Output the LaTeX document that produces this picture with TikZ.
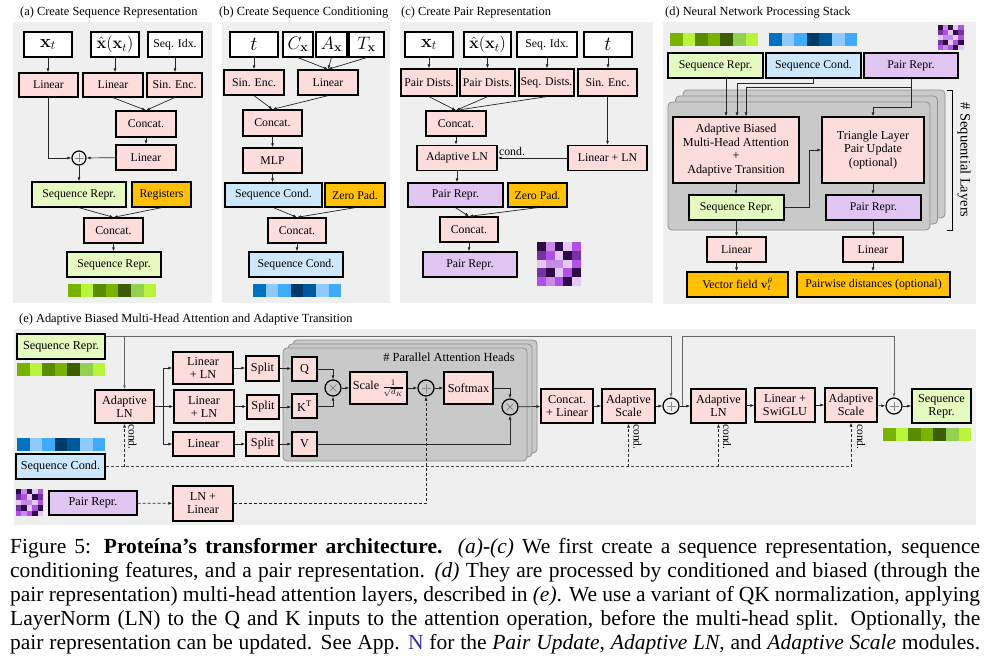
\RequirePackage{fix-cm}
\documentclass[tikz,border=0pt]{standalone}
\usepackage[no-math]{fontspec}
\setmainfont{Liberation Serif}
\usetikzlibrary{arrows.meta,calc}
\definecolor{pinkc}{HTML}{FDDCDC}
\definecolor{greenc}{HTML}{E4FAC0}
\definecolor{bluec}{HTML}{CDE8FC}
\definecolor{purc}{HTML}{E0C5F3}
\definecolor{orangec}{HTML}{FFC000}
\definecolor{panelc}{HTML}{EFEFEF}
\definecolor{stackc}{HTML}{C9C9C9}
\definecolor{stackd}{HTML}{8F8F8F}
\definecolor{linkc}{HTML}{3030B0}
\definecolor{g1}{HTML}{77B300}
\definecolor{g2}{HTML}{B8F53A}
\definecolor{g3}{HTML}{5B8C00}
\definecolor{g4}{HTML}{3E5C00}
\definecolor{g5}{HTML}{92D050}
\definecolor{b1}{HTML}{0070C0}
\definecolor{b2}{HTML}{8FCAFF}
\definecolor{b3}{HTML}{40AAFF}
\definecolor{b4}{HTML}{003A66}
\definecolor{b5}{HTML}{00599C}
\definecolor{p1}{HTML}{2E0A47}
\definecolor{p2}{HTML}{7433A0}
\definecolor{p3}{HTML}{B150E6}
\definecolor{p4}{HTML}{C78AE6}
\definecolor{p5}{HTML}{E3C8F5}
\newcommand\mystrip[4]{\foreach \cc [count=\i from 0] in {#4} {\fill[\cc] ({#1+\i*#3},#2) rectangle ++(#3,13);}}
\newcommand\gstrip[2]{\mystrip{#1}{#2}{12.6}{g1,g2,g3,g1,g4,g5,g2}}
\newcommand\bstrip[2]{\mystrip{#1}{#2}{12.6}{b1,b2,b3,b4,b5,b2,b3}}
\newcommand\pgrid[3]{\foreach \rw [count=\j from 0] in {{p1,p4,p1,p5,p3},{p2,p3,p5,p1,p2},{p5,p4,p4,p5,p3},{p2,p1,p5,p3,p1},{p3,p4,p3,p1,p5}} {\foreach \cc [count=\i from 0] in \rw {\fill[\cc] ({#1+\i*#3},{#2+\j*#3}) rectangle ++(#3,#3);}}}
\begin{document}
\begin{tikzpicture}[x=1pt,y=-1pt,
  bx/.style={draw=black, line width=1.3pt, inner sep=1pt, align=center, font=\fontsize{11.8}{12.8}\selectfont},
  wb/.style={bx, fill=white},
  pk/.style={bx, fill=pinkc},
  gn/.style={bx, fill=greenc},
  bu/.style={bx, fill=bluec},
  pu/.style={bx, fill=purc},
  og/.style={bx, fill=orangec},
  ebx/.style={font=\fontsize{12.2}{13}\selectfont},
  sz/.style 2 args={minimum width=#1pt, minimum height=#2pt},
  mth/.style={font=\fontsize{18}{18}\selectfont},
  mhat/.style={font=\fontsize{16.5}{16.5}\selectfont},
  ttl/.style={font=\fontsize{12.4}{13}\selectfont, anchor=west, inner sep=0},
  arr/.style={-{Latex[length=4pt,width=3pt]}, line width=0.7pt, draw=black!85},
  garr/.style={-{Latex[length=4pt,width=3pt]}, line width=1pt, draw=black!60},
  dsh/.style={line width=0.8pt, draw=black!70, dash pattern=on 3pt off 2pt},
  stk/.style={fill=stackc, draw=stackd, line width=0.8pt, rounded corners=4pt},
  oplus/.style={circle, draw=black, line width=1.2pt, inner sep=0pt, minimum size=#1, path picture={
    \draw[black!45, line width=0.6pt] ([xshift=-4.5pt]path picture bounding box.center) -- ([xshift=4.5pt]path picture bounding box.center);
    \draw[black!45, line width=0.6pt] ([yshift=-4.5pt]path picture bounding box.center) -- ([yshift=4.5pt]path picture bounding box.center);}},
  oplus/.default=16pt,
  otimes/.style={circle, draw=black, line width=1.2pt, inner sep=0pt, minimum size=16pt, path picture={
    \draw[black!55, line width=0.6pt] ([xshift=-3.3pt,yshift=-3.3pt]path picture bounding box.center) -- ([xshift=3.3pt,yshift=3.3pt]path picture bounding box.center);
    \draw[black!55, line width=0.6pt] ([xshift=-3.3pt,yshift=3.3pt]path picture bounding box.center) -- ([xshift=3.3pt,yshift=-3.3pt]path picture bounding box.center);}},
  cnd/.style={font=\fontsize{11.5}{11.5}\selectfont, rotate=-90, inner sep=0},
  captxt/.style={font=\fontsize{21.5}{24}\selectfont, inner sep=0, anchor=base west}
]
\useasboundingbox (0,0) rectangle (999,658);
\fill[white] (0,0) rectangle (999,658);
% panels
\fill[panelc] (13,22) rectangle (212,303);
\fill[panelc] (222,22) rectangle (390,303);
\fill[panelc] (400,22) rectangle (653,303);
\fill[panelc] (663,22) rectangle (976,304);
\fill[panelc] (14,329) rectangle (976,525);
% titles
\node[ttl] (ta) at (20,13) {(a) Create Sequence Representation};
\node[ttl] (tb) at (219,13) {(b) Create Sequence Conditioning};
\node[ttl] (tc) at (401,13) {(c) Create Pair Representation};
\node[ttl] (td) at (665,13) {(d) Neural Network Processing Stack};
\node[ttl] (te) at (19,320) {(e) Adaptive Biased Multi-Head Attention and Adaptive Transition};

% ---------------- (a)
\node[wb, sz={48}{25}, mth] (a1) at (48,44.5) {$\mathbf{x}_t$};
\node[wb, sz={48}{25}, mhat] (a2) at (115,44.5) {$\hat{\mathbf{x}}(\mathbf{x}_t)$};
\node[wb, sz={54}{25}] (a3) at (175,44.5) {Seq. Idx.};
\node[pk, sz={59}{24}] (a4) at (48.5,85) {Linear};
\node[pk, sz={60}{24}] (a5) at (113,85) {Linear};
\node[pk, sz={55}{24}] (a6) at (174.5,85) {Sin. Enc.};
\node[pk, sz={60}{26}] (a7) at (146,124) {Concat.};
\node[pk, sz={60}{25}] (a8) at (146,157.5) {Linear};
\node[oplus=14pt] (a9) at (79,158) {};
\node[gn, sz={94}{25}] (a10) at (79,194.5) {Sequence Repr.};
\node[og, sz={59}{25}] (a11) at (161.5,194.5) {Registers};
\node[pk, sz={59}{25}] (a12) at (113.5,230.5) {Concat.};
\node[gn, sz={94}{25}] (a13) at (114,264.5) {Sequence Repr.};
\gstrip{68}{284}
\draw[arr] (a1.south) -- (a1.south |- a4.north);
\draw[arr] (a2.south) -- (a2.south |- a5.north);
\draw[arr] (a3.south) -- (a3.south |- a6.north);
\draw[arr] (a5.south) -- (a7.north);
\draw[arr] (a6.south) -- (a7.north);
\draw[arr] (a7) -- (a8);
\draw[arr] (a8) -- (a9);
\draw[arr] (a4.south) |- (a9.west);
\draw[arr] (a9) -- (a9 |- a10.north);
\draw[arr] (a10.south) -- (a12.north);
\draw[arr] (a11.south) -- (a12.north);
\draw[arr] (a12) -- (a12 |- a13.north);

% ---------------- (b)
\node[wb, sz={48}{25}, font=\fontsize{20}{20}\selectfont] (b1) at (254,44.5) {$t$};
\node[wb, sz={30}{25}, mth] (b2) at (298,44.5) {$C_{\mathbf{x}}$};
\node[wb, sz={31}{25}, mth] (b3) at (331.5,44.5) {$A_{\mathbf{x}}$};
\node[wb, sz={35}{25}, mth] (b4) at (366.5,44.5) {$T_{\mathbf{x}}$};
\node[pk, sz={60}{25}] (b5) at (254,82.5) {Sin. Enc.};
\node[pk, sz={60}{25}] (b6) at (328,82.5) {Linear};
\node[pk, sz={59}{26}] (b7) at (272.5,123) {Concat.};
\node[pk, sz={59}{25}] (b8) at (272.5,160.5) {MLP};
\node[bu, sz={97}{24}] (b9) at (273.5,195) {Sequence Cond.};
\node[og, sz={60}{24}] (b10) at (355,195) {Zero Pad.};
\node[pk, sz={58}{25}] (b11) at (297,230.5) {Concat.};
\node[bu, sz={94}{25}] (b12) at (296,264.5) {Sequence Cond.};
\bstrip{253}{284}
\draw[arr] (b1) -- (b5);
\draw[arr] (b2.south) -- (b6.north);
\draw[arr] (b3.south) -- (b6.north);
\draw[arr] (b4.south) -- (b6.north);
\draw[arr] (b5.south) -- (b7.north);
\draw[arr] (b6.south) -- (b7.north);
\draw[arr] (b7) -- (b8);
\draw[arr] (b8.south) -- (b8.south |- b9.north);
\draw[arr] (b9.south) -- (b11.north);
\draw[arr] (b10.south) -- (b11.north);
\draw[arr] (b11.south) -- (b11.south |- b12.north);

% ---------------- (c)
\node[wb, sz={48}{25}, mth] (c1) at (429,44.5) {$\mathbf{x}_t$};
\node[wb, sz={47}{25}, mhat] (c2) at (487.5,44.5) {$\hat{\mathbf{x}}(\mathbf{x}_t)$};
\node[wb, sz={60}{25}] (c3) at (547,44.5) {Seq. Idx.};
\node[wb, sz={48}{25}, font=\fontsize{20}{20}\selectfont] (c4) at (608,44.5) {$t$};
\node[pk, sz={56}{27}] (c5) at (429,82.5) {Pair Dists.};
\node[pk, sz={55}{27}] (c6) at (487.5,82.5) {Pair Dists.};
\node[pk, sz={55}{27}] (c7) at (546.5,82.5) {Seq. Dists.};
\node[pk, sz={59}{27}] (c8) at (607.5,82.5) {Sin. Enc.};
\node[pk, sz={60}{25}] (c9) at (456,123.5) {Concat.};
\node[pk, sz={80}{25}] (c10) at (457,158) {Adaptive LN};
\node[pk, sz={79}{25}] (c11) at (607.5,158) {Linear + LN};
\node[pu, sz={95}{24}] (c12) at (455.5,195) {Pair Repr.};
\node[og, sz={59}{24}] (c13) at (537.5,195) {Zero Pad.};
\node[pk, sz={58}{25}] (c14) at (469,229.5) {Concat.};
\node[pu, sz={94}{25}] (c15) at (470,264.5) {Pair Repr.};
\pgrid{537}{242}{8.8}
\node[font=\fontsize{11.8}{12}\selectfont, inner sep=0] (lc) at (512,151) {cond.};
\draw[arr] (c1) -- (c5);
\draw[arr] (c2) -- (c6);
\draw[arr] (c3.south) -- (c3.south |- c7.north);
\draw[arr] (c4.south) -- (c4.south |- c8.north);
\draw[arr] (c5.south) -- (c9.north);
\draw[arr] (c6.south) -- (c9.north);
\draw[arr] (c7.south) -- (c9.north);
\draw[arr] (c8.south) -- (c8.south |- c11.north);
\draw[arr] (c11) -- (c10);
\draw[arr] (c9.south) -- (c9.south |- c10.north);
\draw[arr] (c10.south) -- (c10.south |- c12.north);
\draw[arr] (c12.south) -- (c14.north);
\draw[arr] (c13.south) -- (c14.north);
\draw[arr] (c14.south) -- (c14.south |- c15.north);

% ---------------- (d)
\gstrip{670}{33}
\bstrip{769}{33}
\pgrid{938}{25}{5.1}
\node[gn, sz={95}{25}] (d1) at (715.5,65.5) {Sequence Repr.};
\node[bu, sz={95}{25}] (d2) at (813.5,65.5) {Sequence Cond.};
\node[pu, sz={94}{25}] (d3) at (911,65.5) {Pair Repr.};
\draw[stk] (683,90) rectangle (945,218);
\draw[stk] (675.5,96) rectangle (937.5,224);
\draw[stk] (668,102) rectangle (930,230);
\node[pk, sz={126}{66}, font=\fontsize{12.2}{13.8}\selectfont] (d4) at (736,150) {Adaptive Biased\\Multi-Head Attention\\+\\Adaptive Transition};
\node[pk, sz={102}{66}, font=\fontsize{12.2}{13.5}\selectfont] (d5) at (873,150) {Triangle Layer\\Pair Update\\(optional)};
\node[gn, sz={95}{25}] (d6) at (736.5,207.5) {Sequence Repr.};
\node[pu, sz={95}{25}] (d7) at (873.5,207.5) {Pair Repr.};
\node[pk, sz={59}{25}] (d8) at (736.5,249.5) {Linear};
\node[pk, sz={60}{25}] (d9) at (873,249.5) {Linear};
\node[og, sz={101}{25}] (d10) at (737.5,284.5) {Vector field $\mathbf{v}_t^{\theta}$};
\node[og, sz={153}{25}] (d11) at (873.5,284.5) {Pairwise distances (optional)};
\draw (947,90) -| (952,230) -- (947,230);
\node[font=\fontsize{14.5}{14.5}\selectfont, rotate=-90, inner sep=0] (dl) at (964,160) {\# Sequential Layers};
\draw[arr] ([xshift=10.5pt]d1.south) -- ([xshift=-10pt]d4.north);
\draw[arr] (d2.south) -- ++(0,4.5) -| ([xshift=1pt]d4.north);
\draw[arr] (d3.south) -- ++(0,9) -| ([xshift=10pt]d4.north);
\draw[arr] (d3.south) -- ++(0,29) -| (d5.north);
\draw[arr] (d6.east) -- ++(25,0) |- (d5.west);
\draw[arr] (d4.south) -- (d4.south |- d6.north);
\draw[arr] (d5.south) -- (d5.south |- d7.north);
\draw[arr] (d6.south) -- (d6.south |- d8.north);
\draw[arr] (d7.south) -- (d7.south |- d9.north);
\draw[arr] (d8.south) -- (d8.south |- d10.north);
\draw[arr] (d9.south) -- (d9.south |- d11.north);

% ---------------- (e)
\draw[stk] (293,340) rectangle (537,453);
\draw[stk] (288,344) rectangle (532,457);
\draw[stk] (283,348) rectangle (527,461);
\node[font=\fontsize{12.4}{12.4}\selectfont, inner sep=0] (hl) at (449,357) {\# Parallel Attention Heads};
\node[gn, ebx, sz={88}{25}] (e1) at (61,346.5) {Sequence Repr.};
\gstrip{17}{363}
\node[pk, ebx, sz={59}{33}] (e2) at (124.5,406.5) {Adaptive\\LN};
\node[pk, ebx, sz={60}{32}] (e3) at (203,368) {Linear\\+ LN};
\node[pk, ebx, sz={60}{33}] (e4) at (204,406.5) {Linear\\+ LN};
\node[pk, ebx, sz={61}{24}] (e5) at (203.5,444) {Linear};
\node[pk, ebx, sz={33}{25}] (e6) at (262.5,368.5) {Split};
\node[pk, ebx, sz={32}{24}] (e7) at (263,407) {Split};
\node[pk, ebx, sz={33}{24}] (e8) at (262.5,444) {Split};
\node[pk, ebx, sz={25}{24}] (e9) at (304.5,369) {Q};
\node[pk, ebx, sz={25}{24}] (e10) at (304.5,406) {K\textsuperscript{T}};
\node[pk, ebx, sz={25}{24}] (e11) at (304.5,444) {V};
\node[otimes] (e12) at (333,388) {};
\node[pk, ebx, sz={57}{32}] (e13) at (378.5,388) {Scale $\frac{1}{\sqrt{d_K}}$};
\node[oplus] (e14) at (426,388) {};
\node[pk, ebx, sz={49}{32}] (e15) at (468.5,388) {Softmax};
\node[otimes] (e16) at (510,407) {};
\node[pk, ebx, sz={52}{34}] (e17) at (567,406) {Concat.\\+ Linear};
\node[pk, ebx, sz={53}{34}] (e18) at (628.5,406) {Adaptive\\Scale};
\node[oplus] (e19) at (671,406) {};
\node[pk, ebx, sz={55}{34}] (e20) at (718.5,406) {Adaptive\\LN};
\node[pk, ebx, sz={60}{34}] (e21) at (785,405) {Linear +\\SwiGLU};
\node[pk, ebx, sz={52}{34}] (e22) at (851,405) {Adaptive\\Scale};
\node[oplus] (e23) at (894,406) {};
\node[gn, ebx, sz={59}{34}] (e24) at (941.5,406) {Sequence\\Repr.};
\gstrip{883}{428}
\bstrip{17}{438}
\node[bu, ebx, sz={89}{25}] (e25) at (60.5,466.5) {Sequence Cond.};
\pgrid{16}{489}{5.4}
\node[pu, ebx, sz={88}{24}] (e26) at (93,503) {Pair Repr.};
\node[pk, ebx, sz={60}{35}] (e27) at (203,503.5) {LN +\\Linear};
\node[cnd] (l1) at (132.5,437) {cond.};
\node[cnd] (l2) at (637.5,437) {cond.};
\node[cnd] (l3) at (727,437) {cond.};
\node[cnd] (l4) at (861,437) {cond.};
% residual lines
\coordinate (t0) at ([yshift=-3pt]e1.north east);
\draw[garr] (t0) -| (e19.north);
\draw[garr] (t0 -| e2.north) -- (e2.north);
\coordinate (s1) at ($(e19.east)+(3,0)$);
\draw[garr] (s1) -- (s1 |- t0) -| (e23.north);
% main flow
\coordinate (br) at ($(e2.east)+(9,0)$);
\draw[arr] (e2.east) -- (e4.west);
\draw[arr] (br) |- (e3.west);
\draw[arr] (br) |- (e5.west);
\draw[arr] (e3.east) -- (e3.east -| e6.west);
\draw[arr] (e4.east) -- (e4.east -| e7.west);
\draw[arr] (e5.east) -- (e5.east -| e8.west);
\draw[arr] (e6.east) -- (e6.east -| e9.west);
\draw[arr] (e7.east) -- (e7.east -| e10.west);
\draw[arr] (e8.east) -- (e8.east -| e11.west);
\draw[arr] (e9.east) -| (e12.north);
\draw[arr] (e10.east) -| (e12.south);
\draw[arr] (e12) -- (e13);
\draw[arr] (e13) -- (e14);
\draw[arr] (e14) -- (e15);
\draw[arr] (e15.east) -| (e16.north);
\draw[arr] (e11.east) -| (e16.south);
\draw[arr] (e16) -- (e17);
\draw[arr] (e17) -- (e18);
\draw[arr] (e18) -- (e19);
\draw[arr] (e19) -- (e20);
\draw[arr] (e20) -- (e21);
\draw[arr] (e21) -- (e22);
\draw[arr] (e22) -- (e23);
\draw[arr] (e23) -- (e24);
% conditioning
\draw[dsh] (e25.east) -- (e25.east -| e22.south);
\foreach \n in {e2,e18,e20,e22} \draw[dsh,arr,dash pattern=on 3pt off 2pt] (e25.east -| \n.south) -- (\n.south);
\draw[dsh,arr,dash pattern=on 3pt off 2pt] (e26) -- (e27);
\draw[dsh,arr,dash pattern=on 3pt off 2pt] (e27.east) -| (e14.south);

% ---------------- caption
\node[captxt] (cap1) at (10,553.5) {\makebox[970pt][s]{Figure 5: \textbf{Proteína’s transformer architecture.} \textit{(a)-(c)} We first create a sequence representation, sequence}};
\node[captxt] (cap2) at (10,577.5) {\makebox[970pt][s]{conditioning features, and a pair representation. \textit{(d)} They are processed by conditioned and biased (through the}};
\node[captxt] (cap3) at (10,601.5) {\makebox[970pt][s]{pair representation) multi-head attention layers, described in \textit{(e)}. We use a variant of QK normalization, applying}};
\node[captxt] (cap4) at (10,625.5) {\makebox[970pt][s]{LayerNorm (LN) to the Q and K inputs to the attention operation, before the multi-head split. Optionally, the}};
\node[captxt] (cap5) at (10,649.5) {\makebox[970pt][s]{pair representation can be updated. See App. \textcolor{linkc}{N} for the \textit{Pair Update}, \textit{Adaptive LN}, and \textit{Adaptive Scale} modules.}};
\end{tikzpicture}
\end{document}
